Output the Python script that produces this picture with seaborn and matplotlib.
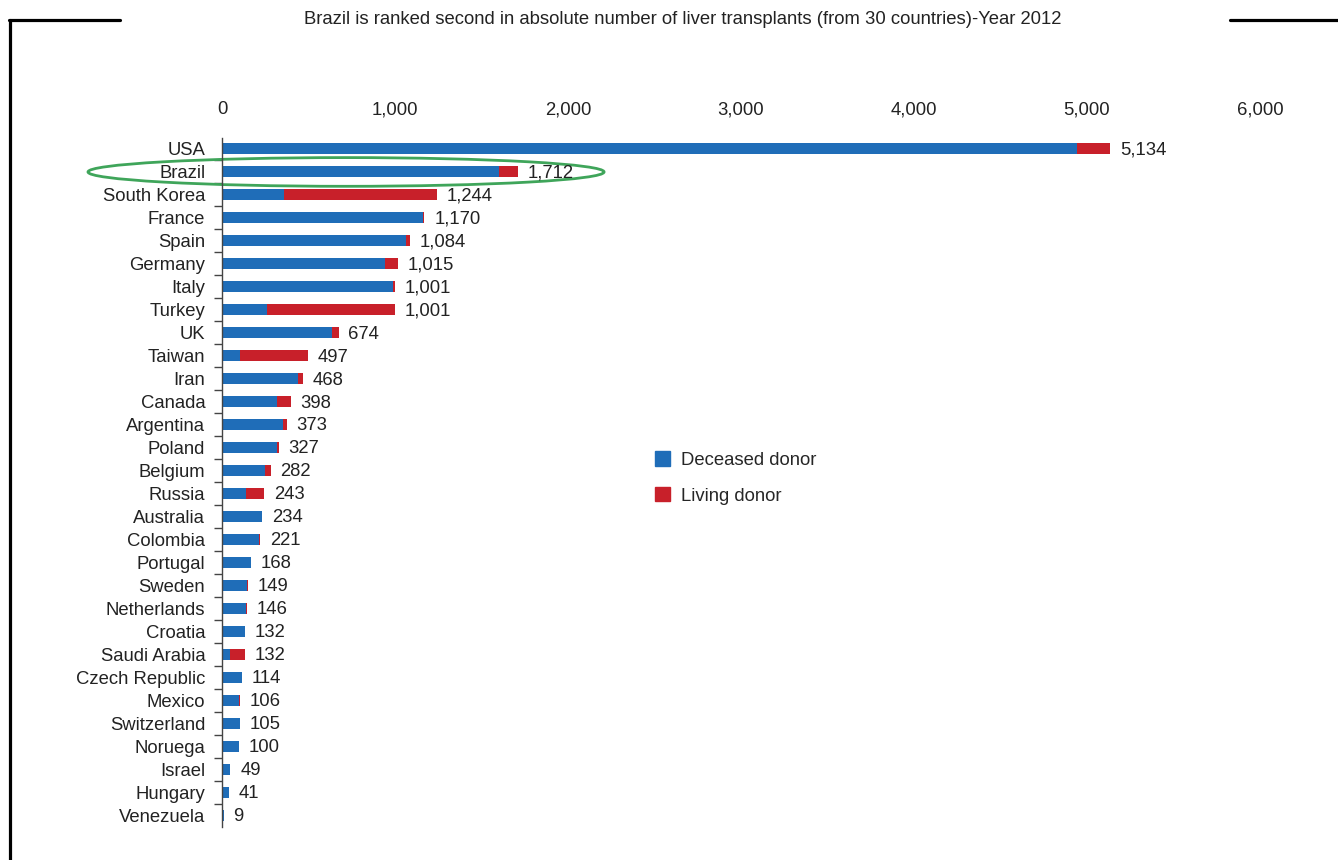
import matplotlib
matplotlib.use("Agg")
import matplotlib.pyplot as plt
import seaborn as sns
import pandas as pd
from matplotlib.patches import Patch, Ellipse
from matplotlib.lines import Line2D

countries = ["USA", "Brazil", "South Korea", "France", "Spain", "Germany", "Italy",
             "Turkey", "UK", "Taiwan", "Iran", "Canada", "Argentina", "Poland",
             "Belgium", "Russia", "Australia", "Colombia", "Portugal", "Sweden",
             "Netherlands", "Croatia", "Saudi Arabia", "Czech Republic", "Mexico",
             "Switzerland", "Noruega", "Israel", "Hungary", "Venezuela"]
totals = [5134, 1712, 1244, 1170, 1084, 1015, 1001, 1001, 674, 497, 468, 398, 373,
          327, 282, 243, 234, 221, 168, 149, 146, 132, 132, 114, 106, 105, 100, 49,
          41, 9]
deceased = [4940, 1600, 360, 1161, 1062, 942, 987, 260, 636, 104, 441, 320, 351,
            316, 249, 137, 230, 215, 166, 147, 141, 132, 46, 114, 100, 103, 100, 44,
            41, 9]

BLUE = "#1f6db8"
RED = "#c8202a"
FS = 13.3

sns.set_theme(style="white")
plt.rcParams["font.family"] = ["Liberation Sans", "DejaVu Sans"]

df = pd.DataFrame({"country": countries, "total": totals, "deceased": deceased})

fig = plt.figure(figsize=(13.38, 8.6), dpi=100)
ax = fig.add_axes([222 / 1338, 1 - 826.5 / 860, (1260 - 222) / 1338, (826.5 - 137.5) / 860])

sns.barplot(data=df, x="total", y="country", orient="h", color=RED, width=0.48,
            saturation=1, linewidth=0, ax=ax)
sns.barplot(data=df, x="deceased", y="country", orient="h", color=BLUE, width=0.48,
            saturation=1, linewidth=0, ax=ax)

ax.set_xlim(0, 6000)
ax.set_ylim(len(countries) - 0.5, -0.5)
ax.set_xlabel("")
ax.set_ylabel("")
ax.xaxis.tick_top()
ax.set_xticks(range(0, 6001, 1000))
ax.set_xticklabels([f"{v:,}" for v in range(0, 6001, 1000)], fontsize=FS, color="#222222")
ax.tick_params(axis="x", length=0, pad=14)
ax.set_yticks(range(len(countries)))
ax.set_yticklabels(countries, fontsize=FS, color="#222222")
ax.tick_params(axis="y", which="major", length=0, pad=12)
ax.set_yticks([i + 0.5 for i in range(len(countries) - 1)], minor=True)
ax.tick_params(axis="y", which="minor", length=6, width=1, color="#444444", left=True)
for s in ["top", "right", "bottom"]:
    ax.spines[s].set_visible(False)
ax.spines["left"].set_color("#444444")
ax.spines["left"].set_linewidth(1)

for i, t in enumerate(totals):
    ax.annotate(f"{t:,}", xy=(t, i), xytext=(7, -1), textcoords="offset points",
                va="center", ha="left", fontsize=FS, color="#222222")

# highlight ellipse around Brazil
ell = Ellipse((717, 1), width=2983, height=1.25, fill=False, edgecolor="#3fa55a",
              linewidth=2, clip_on=False)
ax.add_patch(ell)

fig.text(0.51, 1 - 20 / 860, "Brazil is ranked second in absolute number of liver transplants (from 30 countries)-Year 2012",
         ha="center", va="center", fontsize=13.3, color="#222222")

handles = [Patch(facecolor=BLUE, edgecolor=BLUE), Patch(facecolor=RED, edgecolor=RED)]
fig.legend(handles, ["Deceased donor", "Living donor"], loc="upper left",
           bbox_to_anchor=(648 / 1338, 1 - 444 / 860), frameon=False, fontsize=FS,
           handlelength=0.8, handleheight=0.8, handletextpad=0.6, labelspacing=1.0,
           borderaxespad=0)

# frame lines
lw = 2.3
fig.add_artist(Line2D([10 / 1338, 10 / 1338], [0, 1 - 20 / 860], color="black", linewidth=lw))
fig.add_artist(Line2D([9 / 1338, 120 / 1338], [1 - 20 / 860, 1 - 20 / 860], color="black", linewidth=lw))
fig.add_artist(Line2D([1230 / 1338, 1], [1 - 20 / 860, 1 - 20 / 860], color="black", linewidth=lw))

fig.savefig("out.png", dpi=100)
